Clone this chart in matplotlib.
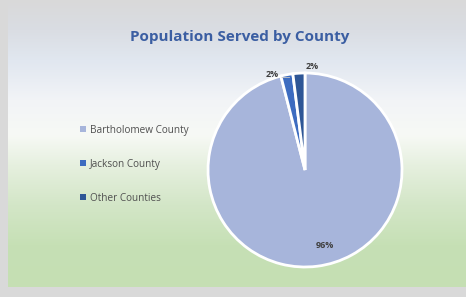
import matplotlib
matplotlib.use("Agg")
import matplotlib.pyplot as plt
import matplotlib.colors as mcolors
import numpy as np

counties = ["Bartholomew County", "Jackson County", "Other Counties"]
shares = [96, 2, 2]
colors = ["#a7b5db", "#3d6cc0", "#2e5696"]

W, H = 466, 297
fig = plt.figure(figsize=(W / 100, H / 100), dpi=100, facecolor="#d9d9d9")

# background gradient (grey-blue top -> white -> green bottom)
bg = fig.add_axes([8 / W, 10 / H, 1 - 8 / W, 1 - 10 / H])
bg.set_axis_off()
stops_y = [0, 30, 60, 100, 135, 165, 205, 245, 287]
stops_c = ["#d9d9d9", "#dadde3", "#e1e7f0", "#f2f4f7", "#f7f9f5",
           "#e6f0df", "#d3e6c7", "#c6e0b5", "#c5dfb3"]
rgb = np.array([mcolors.to_rgb(c) for c in stops_c])
yy = np.arange(0, 287)
grad = np.stack([np.interp(yy, stops_y, rgb[:, k]) for k in range(3)], axis=1)
bg.imshow(grad[:, None, :], aspect="auto", extent=[0, 1, 0, 1], interpolation="bilinear")
bg.set_xlim(0, 1)
bg.set_ylim(0, 1)

fig.text(240 / W, 1 - 37 / H, "Population Served by County", ha="center", va="center",
         fontsize=11, fontweight="bold", color="#3b5ea2", family="Open Sans")

# pie
cx, cy, r = 305, 170, 97
ax = fig.add_axes([(cx - r) / W, 1 - (cy + r) / H, 2 * r / W, 2 * r / H])
ax.set_axis_off()
wedges, texts, autotexts = ax.pie(shares, colors=colors, startangle=90, counterclock=False,
                                  autopct="%1.0f%%", pctdistance=0.78,
                                  wedgeprops=dict(edgecolor="white", linewidth=2),
                                  textprops=dict(fontsize=6.5, fontweight="bold", color="#404040",
                                                 family="Open Sans"))
ax.set_xlim(-1, 1)
ax.set_ylim(-1, 1)

for w, t, s in zip(wedges, autotexts, shares):
    th = np.deg2rad((w.theta1 + w.theta2) / 2)
    if s < 10:
        t.set_clip_on(False)
        if np.cos(th) < -0.1:
            x, y = 1.05 * np.cos(th) - 0.07, 1.0 * np.sin(th)
            t.set_ha("right")
            ax.plot([x + 0.03, 0.96 * np.cos(th) + 0.02], [y - 0.03, 0.97 * np.sin(th)],
                    color="#c8c8c8", lw=0.6, clip_on=False)
        else:
            x, y = 1.1 * np.cos(th) + 0.14, 1.07 * np.sin(th)
            t.set_ha("center")
        t.set_position((x, y))
    else:
        t.set_position((0.2, 0.78 * np.sin(th)))

leg = fig.legend(wedges, counties, loc="upper left", bbox_to_anchor=(71 / W, 1 - 116 / H),
                 frameon=False, handlelength=0.55, handleheight=0.55, handletextpad=0.4,
                 labelspacing=2.3, labelcolor="#505050",
                 prop=dict(family="Open Sans", size=7.2))
for h in leg.legend_handles:
    h.set_edgecolor("none")

fig.savefig("out.png", dpi=100, facecolor=fig.get_facecolor())
